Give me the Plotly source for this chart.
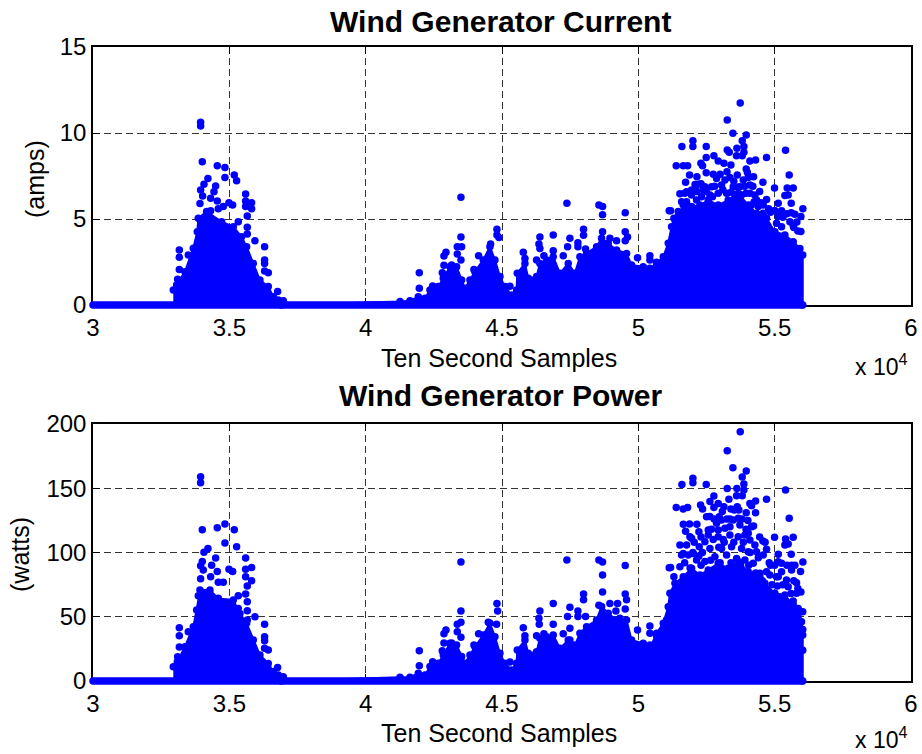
import plotly.graph_objects as go

W, H = 922, 754
BLUE = "#0000ff"

x_ticks = [30000, 35000, 40000, 45000, 50000, 55000, 60000]
x_labels = ["3", "3.5", "4", "4.5", "5", "5.5", "6"]
amp_ticks = [0, 5, 10, 15]
watt_ticks = [0, 50, 100, 150, 200]

zero_sample_x = list(range(30000, 56031, 100))

current_env_x = [32945, 33067, 33373, 33678, 33825, 33862, 34167, 34717, 35145, 35450, 35633, 35878, 36122, 36428, 36611, 36794, 36900,
                 41258, 41625, 41930, 42175, 42358, 42663, 42847, 43091, 43335, 43519, 43641, 43824, 44007, 44313, 44557, 44741, 44924,
                 45107, 45352, 45535, 45560, 45841, 45963, 46268, 46390, 46635, 46879, 47124, 47429, 47674, 47857, 48101, 48468, 48651,
                 48896, 49201, 49568, 49751, 50179, 50423, 50669, 50914, 51097, 51219, 51464, 51647, 51953, 52258, 52564, 52930, 53297,
                 53663, 54030, 54335, 54702, 55008, 55374, 55680, 55924, 56030, 56030]
current_env_y = [0.87, 1.16, 1.94, 3.3, 4.26, 5.04, 5.43, 4.84, 4.55, 3.97, 3.39, 2.42, 1.45, 1.07, 0.48, 0.29, 0,
                 0.2, 0.25, 0.48, 0.39, 0.87, 1.07, 1.55, 2.23, 2.23, 1.45, 0.97, 1.45, 1.94, 2.62, 3.39, 2.62, 1.65,
                 1.07, 0.58, 0.87, 1.84, 2.42, 1.55, 1.65, 2.42, 2.62, 2.81, 1.84, 2.42, 1.84, 2.81, 3.0, 3.39, 3.88,
                 3.59, 3.2, 3.0, 2.33, 2.23, 2.13, 2.42, 2.81, 3.59, 4.55, 5.14, 5.81, 5.72, 5.81, 6.1, 5.81, 6.1,
                 6.49, 5.81, 5.33, 5.04, 4.26, 4.07, 3.68, 3.29, 2.9, 0]

current_dot_x = [33947, 33947, 34008, 34558, 34839, 35181, 34839, 35267, 34216, 34069, 34497, 33947, 35597, 34436, 34020, 34314, 34558,
                 35597, 35817, 35597, 35817, 33923, 34986, 35120, 34778, 34595, 34314, 35658, 35328, 35658, 35658, 35939, 36293, 36293,
                 36293, 36293, 36428, 36770, 36978, 33165, 33165, 33495, 33165, 33104,
                 41967, 41967, 42456, 43494, 43494, 43360, 43519, 42944, 42871, 43360, 43494, 42871, 42810, 43152, 44814, 44814, 44887,
                 44582, 44142, 43971, 45291, 45780, 45841, 46390, 46354, 46390, 46879, 47380, 47490, 47405, 47991, 47991, 47784, 47784,
                 48065, 48553, 48688, 48688, 48688, 49519, 49519, 49604, 49519, 48957, 49201, 49971, 50423, 50423, 50667, 51132, 51132,
                 46879, 46537, 46268, 47246,
                 53737, 53260, 53468, 53957, 53810, 52001, 52001, 51598, 52490, 53871, 53614, 53260, 53333, 55399, 53871, 53602, 53810,
                 54702, 52490, 52771, 54091, 54299, 52930, 52295, 52356, 51390, 51647, 51806, 53138, 53395, 53957, 52490, 55533, 51879,
                 52148, 54225, 54030, 54568, 51733, 52221, 54995, 55680, 55460, 55374, 55496, 51525, 54274, 54702, 54580, 55607, 55130,
                 55252, 56034, 51183, 51305, 54849, 55607, 55740, 55961, 55069, 55814, 55680, 55961,
                 53358, 53627, 53847, 52869, 52686, 52441, 53052, 53480, 54091, 51769, 51953, 52319, 52625, 52930, 53236, 53541, 53786,
                 54091, 54335, 51586, 51769, 54580, 51464, 54397, 54152, 55130, 55558, 55252, 53175, 53724, 52136,
                 52080, 52300, 52750, 52500, 52800, 53000, 53250, 53500, 53900, 54000, 54200, 54450, 51950, 52150, 52380, 52720, 53100,
                 53400, 53650, 53950, 54250, 54500, 54780, 55000, 55300, 55450, 55700, 55850, 51350, 51700]
current_dot_y = [10.62, 10.41, 8.33, 8.1, 8.0, 7.56, 7.42, 7.23, 7.36, 7.02, 6.92, 6.69, 6.45, 6.59, 6.34, 6.2, 6.05,
                 6.05, 5.95, 5.72, 5.6, 5.9, 5.95, 5.81, 5.72, 5.6, 5.48, 5.17, 4.84, 4.52, 4.13, 3.74, 3.39, 2.62,
                 2.42, 1.98, 1.88, 0.78, 0.25, 3.2, 2.77, 2.91, 2.07, 1.49,
                 1.88, 0.97, 1.1, 6.26, 3.95, 3.39, 3.39, 3.06, 2.85, 2.97, 2.62, 2.31, 1.88, 2.33, 4.4, 4.07, 3.93,
                 3.55, 2.87, 2.07, 1.09, 3.06, 2.71, 3.95, 3.55, 3.29, 4.07, 5.91, 3.88, 3.39, 4.4, 4.05, 3.62, 3.39,
                 3.26, 5.81, 5.72, 5.25, 4.26, 5.37, 4.26, 3.95, 3.74, 3.88, 3.74, 2.75, 2.87, 2.62, 2.48, 5.48, 3.59,
                 3.16, 2.87, 2.62, 2.87,
                 11.74, 10.76, 9.98, 9.88, 9.55, 9.55, 9.21, 9.21, 9.21, 9.21, 9.11, 9.01, 8.88, 8.99, 8.88, 8.68, 8.68,
                 8.57, 8.57, 8.68, 8.37, 8.43, 8.37, 8.24, 8.1, 8.1, 8.1, 8.1, 8.24, 8.14, 7.91, 7.69, 7.56, 7.56,
                 7.46, 7.46, 7.42, 7.13, 7.13, 7.02, 6.8, 6.8, 6.8, 6.36, 6.4, 6.47, 6.4, 6.14, 5.81, 5.91, 5.91,
                 5.48, 5.6, 5.48, 5.04, 5.39, 5.37, 5.27, 5.15, 4.75, 4.83, 4.61, 4.28,
                 7.42, 7.56, 7.27, 7.36, 6.88, 6.88, 6.98, 6.88, 6.98, 6.59, 6.69, 6.3, 6.4, 6.49, 6.49, 6.4, 6.4,
                 6.49, 6.1, 6.01, 6.01, 5.33, 5.43, 5.72, 5.81, 5.14, 4.84, 4.55, 7.27, 6.88, 6.1,
                 7.0, 7.05, 7.6, 6.6, 6.9, 7.6, 7.75, 7.2, 6.9, 7.7, 6.9, 6.6, 6.4, 6.6, 6.7, 6.3, 6.7,
                 6.55, 6.85, 6.5, 6.0, 5.95, 5.6, 5.5, 5.1, 5.3, 4.5, 4.3, 4.9, 6.5]

power_env_x = [32945, 33092, 33373, 33678, 33800, 33923, 34289, 34595, 35145, 35389, 35633, 35878, 36122, 36428, 36611, 36794, 36900,
               41258, 41625, 41930, 42175, 42358, 42663, 42847, 43091, 43335, 43519, 43641, 43824, 44007, 44313, 44557, 44741, 44924,
               45107, 45352, 45535, 45560, 45841, 45963, 46268, 46390, 46635, 46879, 47124, 47429, 47674, 47857, 48101, 48468, 48651,
               48896, 49201, 49568, 49751, 50179, 50423, 50669, 50914, 51097, 51158, 51342, 51647, 51953, 52258, 52564, 52930, 53297,
               53663, 54030, 54335, 54640, 55008, 55374, 55680, 55924, 56030, 56030]
power_env_y = [11.1, 15, 26.7, 42.3, 55.2, 70.8, 70.8, 64.3, 63, 52.6, 44.9, 31.9, 20.2, 13.7, 7.3, 4.7, 0,
               2.9, 2.9, 6, 4.7, 11.2, 13.8, 20.2, 29.3, 28, 19, 13.8, 20.2, 26.7, 35.8, 44.9, 34.5, 21.5,
               13.8, 8.6, 13.8, 24.1, 31.9, 21.5, 22.8, 33.2, 34.5, 35.8, 25.4, 31.9, 28, 37.1, 42.3, 47.5, 57.9,
               52.7, 47.5, 47.5, 31.9, 29.3, 25.4, 37.1, 44.9, 57.8, 68.2, 76, 81.2, 87.7, 82.5, 86.4, 91.6, 87.7,
               92.9, 85.1, 81.2, 76, 68.2, 66.9, 59.1, 53.9, 40, 0]

power_dot_x = [33947, 33947, 34008, 34558, 34839, 35181, 34839, 35267, 34216, 34069, 34497, 35597, 34008, 33947, 34351, 35817, 35597,
               34986, 35120, 34558, 34045, 34314, 35597, 33947, 35817, 34595, 34778, 35658, 35597, 35328, 33862, 35658, 35328, 35658,
               35939, 35658, 36293, 33165, 33165, 33495, 36293, 36293, 33165, 36293, 36428, 33104, 36770, 36978,
               41967, 41967, 42456, 43494, 43494, 43494, 43360, 42944, 42871, 43360, 43494, 42871, 42810, 43152, 44814, 44839, 44496,
               44802, 44142, 43971, 45291, 45780, 45841, 46390, 46354, 46366, 46879, 46879, 47380, 47490, 47405, 47490, 47991, 47991,
               47784, 47784, 48065, 48553, 48688, 48688, 48688, 49519, 49519, 49568, 48553, 48957, 49238, 49177, 49323, 49519, 49971,
               50423, 50423, 50667, 51132, 51132, 51034, 50423, 46268, 46537, 47246, 47490,
               53737, 53260, 53468, 53957, 53810, 53871, 52001, 52001, 51598, 52490, 53260, 53614, 53871, 55399, 53602, 53810, 52771,
               53321, 54702, 54299, 54091, 54152, 52625, 52930, 52771, 52282, 52356, 51390, 51647, 51806, 53138, 53395, 53627, 53688,
               53957, 54299, 52502, 52967, 53358, 53663, 54018, 55533, 51879, 52148, 54225, 51733, 52221, 52564, 52930, 53358, 54030,
               51953, 54995, 55680, 55399, 55374, 55496, 54568, 52747, 53114, 51525, 54274, 52234, 54702, 54580, 55130, 55607, 51647,
               52014, 52221, 54030, 54849, 55252, 55130, 56034, 55619, 55740, 51183, 55949, 55619, 51305, 54824, 54458, 55802, 55435,
               55069, 55961, 55680, 55863, 56030, 55985, 56030, 56030,
               52564, 52869, 53052, 53175, 53480, 53724, 53908, 52441, 52930, 53358, 53663, 54091, 54335, 52625, 53052, 53419, 53786,
               51891, 51769, 51586, 51830, 52441, 52808, 53236, 53602, 53908, 54213, 51525, 52136, 55252, 55496, 55802, 54702, 54458, 55130,
               51650, 52050, 52300, 52680, 52780, 52620, 53080, 53250, 53520, 53800, 53950, 54150, 54450, 54650, 54400, 54800, 55000,
               55450, 55700, 55850, 52000, 52350, 52950, 53150, 53500, 53850, 54100, 51700, 51900, 52300, 52650, 53000, 53400, 53750,
               54050, 54300, 54550, 54900, 55100, 55300, 55600]
power_dot_y = [159, 154.3, 117.8, 119.3, 122.2, 117.8, 107.4, 104.5, 103.2, 100.1, 95.7, 95.7, 92.9, 89.7, 90, 88.4, 86.9,
               86.9, 85.3, 85.3, 86.4, 81.2, 81.2, 79.6, 78.1, 76.8, 76.8, 74, 67.7, 66.4, 66.4, 61.7, 56.5, 54.7,
               50, 47.5, 44.1, 41.5, 35.3, 38.4, 34.5, 31.4, 26.5, 25.4, 24.1, 18.9, 10.6, 3.4,
               23.6, 11.9, 15, 92.6, 54.5, 45.7, 44.1, 39.7, 36.8, 38.4, 34, 29.6, 23.6, 29.6, 60.4, 54.5, 45.7,
               44.1, 36.8, 28, 14.8, 41.5, 35.3, 54.5, 48.8, 44.1, 60.4, 44.1, 94.2, 57.3, 50.1, 41, 67.7, 63.3,
               54.5, 50.1, 50.1, 94.2, 92.6, 82.5, 69.3, 89.8, 67.7, 63.3, 58.9, 60.4, 60.4, 54.5, 48.8, 56, 39.7,
               42.8, 37.1, 35.3, 88.2, 57.3, 47.5, 28, 35.3, 36.8, 36.8, 31.9,
               194, 179.2, 166, 163.4, 158.7, 153.3, 157.7, 154.3, 153, 153, 149.9, 149.9, 148.6, 148.6, 144.2, 144.2, 143.9,
               141.4, 141.4, 140.1, 138.2, 136.4, 139.6, 138.2, 135.1, 137, 133.9, 135.1, 133.9, 135.1, 135.6, 133.9, 135.6, 133.1,
               131, 131, 127.9, 127.9, 126, 126.6, 125, 126.6, 122.2, 121.9, 120.6, 116.5, 116.2, 117.5, 117.5, 120.1, 114.9,
               111, 111.8, 111.8, 110.5, 105.8, 106.6, 108.9, 110.2, 110.2, 105.8, 105.8, 104.5, 102.5, 98, 98.6, 98.6, 99.3,
               99.3, 97.3, 100.6, 90, 91.6, 92.8, 92.6, 90, 90, 88.4, 85.3, 86.4, 81.2, 82.5, 83.8, 76.5, 78.6,
               81.2, 69.2, 62.2, 56.5, 53.9, 46.1, 35.8, 24,
               113.6, 122.7, 125.3, 118.8, 125.3, 121.4, 113.6, 108.4, 112.3, 113.6, 112.3, 109.7, 100.6, 103.2, 103.2, 104.5, 103.2,
               112.3, 105.8, 98, 98, 92.9, 96.7, 98, 95.4, 94.2, 91.6, 89, 94.2, 85.1, 73.4, 68.2, 85.1, 81.2, 81.2,
               122, 108, 112, 118, 126, 128, 132, 126, 133, 126, 118, 120, 112, 108, 96, 92, 90,
               90, 78, 72, 100, 100, 104, 108, 108, 108, 100, 92, 88, 90, 94, 92, 92, 90,
               90, 84, 78, 75, 74, 75, 68]

DOT = 7.5
FONT = "Liberation Sans, Arial, sans-serif"


def layer(env_x, env_y, dot_x, dot_y, xa, ya):
    return [
        go.Scatter(x=env_x, y=env_y, mode="lines+markers", fill="tozeroy", fillcolor=BLUE,
                   line=dict(color=BLUE, width=2), marker=dict(color=BLUE, size=DOT),
                   cliponaxis=False, showlegend=False, xaxis=xa, yaxis=ya),
        go.Scatter(x=zero_sample_x, y=[0] * len(zero_sample_x), mode="markers", marker=dict(color=BLUE, size=DOT),
                   cliponaxis=False, showlegend=False, xaxis=xa, yaxis=ya),
        go.Scatter(x=dot_x, y=dot_y, mode="markers", marker=dict(color=BLUE, size=DOT),
                   cliponaxis=False, showlegend=False, xaxis=xa, yaxis=ya),
    ]


fig = go.Figure()
fig.add_traces(layer(current_env_x, current_env_y, current_dot_x, current_dot_y, "x", "y"))
fig.add_traces(layer(power_env_x, power_env_y, power_dot_x, power_dot_y, "x2", "y2"))

axis_common = dict(showline=True, linecolor="black", linewidth=1.5, mirror="ticks", ticks="inside", ticklen=7,
                   tickcolor="black", showgrid=True, gridcolor="#333333", gridwidth=1, griddash="7px,4px",
                   zeroline=False, tickfont=dict(family=FONT, size=24, color="black"), layer="below traces",
                   automargin=False)
xdom = [93 / W, 911 / W]


def note(text, px, py, size, angle=0):
    return dict(text=text, x=px / W, y=1 - py / H, xref="paper", yref="paper", showarrow=False, textangle=angle,
                xanchor="center", yanchor="middle", font=dict(family=FONT, size=size, color="black"))


fig.update_layout(
    template="none", width=W, height=H, margin=dict(l=0, r=0, t=0, b=0), paper_bgcolor="white", plot_bgcolor="white",
    font=dict(family=FONT, color="black"), showlegend=False,
    xaxis=dict(domain=xdom, range=[30000, 60000], tickvals=x_ticks, ticktext=x_labels, anchor="y", **axis_common),
    yaxis=dict(domain=[(H - 305) / H, (H - 47) / H], range=[0, 15], tickvals=amp_ticks, anchor="x", **axis_common),
    xaxis2=dict(domain=xdom, range=[30000, 60000], tickvals=x_ticks, ticktext=x_labels, anchor="y2", **axis_common),
    yaxis2=dict(domain=[(H - 681) / H, (H - 424) / H], range=[0, 200], tickvals=watt_ticks, anchor="x2", **axis_common),
    annotations=[
        note("<b>Wind Generator Current</b>", 500, 21, 30),
        note("<b>Wind Generator Power</b>", 500, 396, 30),
        note("Ten Second Samples", 499, 358, 25),
        note("Ten Second Samples", 499, 733, 25),
        note("(amps)", 35, 179, 25, -90),
        note("(watts)", 20, 555, 25, -90),
        note("x 10<sup>4</sup>", 881, 365, 23),
        note("x 10<sup>4</sup>", 881, 738, 23),
    ],
)

fig.write_html("out.html", config=dict(displayModeBar=False),
               post_script="document.body.style.margin='0';document.body.style.overflow='hidden';")
